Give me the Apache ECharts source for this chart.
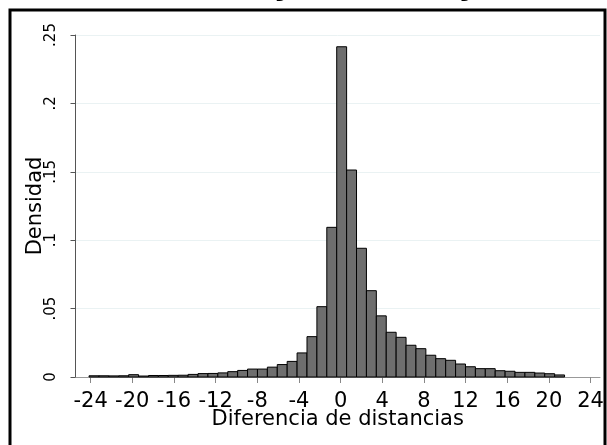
<!DOCTYPE html>
<html>
<head>
<meta charset="utf-8">
<script src="https://cdn.jsdelivr.net/npm/echarts@6/dist/echarts.min.js"></script>
<style>
  html, body { margin: 0; padding: 0; background: #fff; }
  #chart { width: 607px; height: 445px; }
</style>
</head>
<body>
<div id="chart"></div>
<script>
// histograma de diferencias, 48 barras
var binStart = -24.15;
var binWidth = 0.951;
var density = [
    0.0009, 0.0009, 0.0008, 0.0009, 0.0017, 0.0007, 0.0011, 0.0011,
    0.0012, 0.0013, 0.0019, 0.0025, 0.0026, 0.0030, 0.0039, 0.0048,
    0.0058, 0.0058, 0.0072, 0.0091, 0.0114, 0.0176, 0.0295, 0.0514,
    0.1094, 0.2414, 0.1513, 0.0941, 0.0631, 0.0447, 0.0327, 0.0290,
    0.0232, 0.0207, 0.0159, 0.0134, 0.0122, 0.0095, 0.0075, 0.0061,
    0.0061, 0.0046, 0.0042, 0.0034, 0.0034, 0.0029, 0.0024, 0.0015
];
var xTicks = [-24, -20, -16, -12, -8, -4, 0, 4, 8, 12, 16, 20, 24];
var titleText = 'Distancia norte y sur, este y oeste';

var font = 'DejaVu Sans';
var seriesData = [];
for (var i = 0; i < density.length; i++) {
    seriesData.push([binStart + i * binWidth, density[i]]);
}

var myChart = echarts.init(document.getElementById('chart'));
var option = {
    animation: false,
    grid: { left: 75.5, right: 7, top: 35, bottom: 68 },
    graphic: [
        {
            type: 'rect',
            shape: { x: 10, y: 10, width: 595, height: 460 },
            style: { fill: 'none', stroke: '#000', lineWidth: 3 },
            z: 100
        },
        {
            // titulo cortado arriba, solo se ven los trazos bajos
            type: 'text',
            x: 4,
            y: 2,
            style: { text: titleText, font: 'bold 30px "DejaVu Sans"', fill: '#000', verticalAlign: 'bottom' },
            z: 100
        }
    ],
    xAxis: {
        type: 'value',
        min: -25.45,
        max: 24.9,
        name: 'Diferencia de distancias',
        nameLocation: 'middle',
        nameGap: 32,
        nameMoveOverlap: false,
        nameTextStyle: { fontFamily: font, fontSize: 21, color: '#000' },
        axisLine: { onZero: false, lineStyle: { color: '#999', width: 1 } },
        axisTick: { customValues: xTicks, length: 6, lineStyle: { color: '#888' } },
        axisLabel: { customValues: xTicks, fontFamily: font, fontSize: 21, color: '#000', margin: 14 },
        splitLine: { show: false }
    },
    yAxis: {
        type: 'value',
        min: 0,
        max: 0.25,
        interval: 0.05,
        name: 'Densidad',
        nameLocation: 'middle',
        nameGap: 29,
        nameMoveOverlap: false,
        nameTextStyle: { fontFamily: font, fontSize: 21, color: '#000' },
        axisLine: { show: true, onZero: false, lineStyle: { color: '#555', width: 1 } },
        axisTick: { show: true, length: 5, lineStyle: { color: '#555' } },
        axisLabel: {
            rotate: 90,
            margin: 17,
            fontFamily: font,
            fontSize: 15,
            color: '#000',
            formatter: function (v) {
                var s = String(parseFloat(v.toFixed(2)));
                return s === '0' ? s : s.replace(/^0/, '');
            }
        },
        splitLine: { show: true, lineStyle: { color: '#eaf2f3', width: 1 } }
    },
    series: [{
        type: 'custom',
        data: seriesData,
        renderItem: function (params, api) {
            var x0 = api.value(0);
            var p0 = api.coord([x0, 0]);
            var p1 = api.coord([x0 + binWidth, api.value(1)]);
            return {
                type: 'rect',
                shape: { x: p0[0], y: p1[1], width: p1[0] - p0[0], height: p0[1] - p1[1] },
                style: { fill: '#6e6e6e', stroke: '#000', lineWidth: 1 }
            };
        }
    }]
};
myChart.setOption(option);
</script>
</body>
</html>
